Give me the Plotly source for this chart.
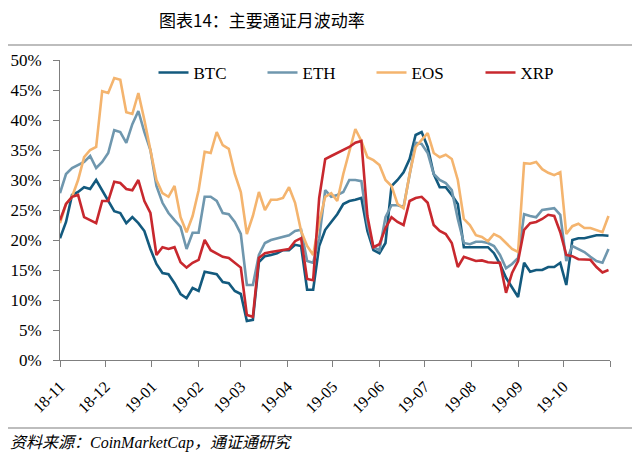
import pandas as pd
import plotly.graph_objects as go

# 4-day sampling, 2018-11-01 .. 2019-10-31
dates = pd.date_range("2018-11-01", periods=92, freq="4D")

btc = [20.3, 23.0, 27.5, 28.0, 28.8, 28.5, 30.0, 28.3, 26.5, 24.8,
       24.5, 22.8, 23.8, 22.8, 21.5, 18.5, 16.0, 14.5, 14.3, 12.8,
       11.0, 10.3, 12.0, 11.5, 14.7, 14.5, 14.3, 13.0, 12.8, 11.5,
       11.0, 6.5, 6.7, 16.3, 17.3, 17.5, 17.8, 18.3, 18.3, 19.2,
       19.0, 11.7, 11.7, 19.0, 21.7, 23.0, 24.3, 26.0, 26.5, 26.7,
       27.0, 21.5, 18.3, 17.8, 19.5, 29.0, 30.0, 31.3, 33.5, 37.5,
       38.0, 35.5, 31.0, 28.8, 28.8, 27.5, 26.0, 18.8, 18.8, 18.8,
       18.8, 18.8, 17.8, 16.0, 13.7, 12.0, 10.5, 16.2, 14.7, 15.0,
       15.0, 15.5, 15.5, 16.2, 12.5, 20.0, 20.3, 20.3, 20.5, 20.8,
       20.8, 20.7]

eth = [27.8, 31.0, 32.0, 32.5, 33.0, 34.0, 32.0, 33.0, 34.5, 38.3,
       38.0, 36.2, 39.3, 41.5, 38.0, 35.0, 29.0, 26.2, 24.5, 23.3,
       22.2, 18.5, 21.2, 21.2, 27.2, 27.2, 26.5, 24.5, 24.3, 23.0,
       21.0, 12.5, 12.5, 17.5, 19.5, 20.0, 20.3, 20.5, 20.8, 21.5,
       21.7, 16.5, 16.2, 20.3, 28.3, 27.2, 27.5, 28.0, 30.0, 30.0,
       29.8, 22.8, 18.8, 18.3, 23.8, 25.8, 25.8, 25.5, 31.0, 36.2,
       36.0, 34.5, 31.0, 30.0, 29.5, 28.3, 23.5, 19.5, 19.3, 19.7,
       19.7, 19.5, 19.0, 17.5, 15.3, 16.0, 17.0, 24.3, 24.0, 23.8,
       25.0, 25.2, 25.3, 24.2, 16.5, 19.0, 18.5, 18.0, 17.2, 16.5,
       16.2, 18.5]

eos = [22.8, 26.0, 27.2, 30.0, 33.8, 35.0, 35.5, 44.8, 44.5, 47.0,
       46.7, 41.3, 41.0, 44.5, 40.0, 35.0, 30.0, 27.8, 27.2, 29.0,
       23.8, 21.3, 24.0, 28.3, 34.7, 34.5, 38.0, 35.8, 35.2, 31.0,
       28.0, 21.0, 24.0, 28.0, 25.0, 26.7, 26.7, 27.0, 28.8, 26.2,
       21.5, 19.0, 17.5, 23.0, 27.2, 27.8, 26.5, 31.0, 35.0, 38.5,
       36.5, 33.8, 33.3, 32.5, 30.0, 29.0, 26.0, 25.3, 31.0, 35.5,
       36.7, 37.8, 34.5, 33.8, 34.2, 33.5, 30.0, 23.5, 22.5, 20.8,
       20.5, 19.8, 21.0, 20.5, 19.5, 18.5, 18.0, 32.8, 32.7, 33.0,
       31.8, 31.2, 30.8, 31.3, 21.0, 22.3, 22.7, 22.0, 22.0, 21.7,
       21.3, 24.0]

xrp = [23.3, 26.0, 27.2, 27.5, 23.8, 23.3, 22.8, 26.5, 26.5, 29.7,
       29.5, 28.5, 28.3, 30.0, 26.5, 24.5, 17.5, 18.8, 18.5, 18.8,
       16.3, 15.4, 16.2, 16.7, 20.0, 18.3, 17.8, 17.2, 17.0, 16.2,
       15.4, 7.5, 7.2, 17.0, 17.8, 18.0, 18.2, 18.3, 18.5, 19.8,
       20.3, 13.5, 13.3, 27.0, 33.5, 34.0, 34.5, 35.0, 35.5, 36.2,
       36.5, 24.0, 18.8, 19.3, 22.0, 23.8, 23.0, 22.5, 26.5, 27.0,
       27.2, 26.2, 22.5, 21.5, 21.0, 19.5, 15.5, 17.2, 16.8, 16.5,
       16.6, 16.3, 16.2, 16.2, 11.2, 14.5, 16.5, 21.7, 22.8, 23.0,
       23.5, 24.2, 24.0, 21.3, 17.5, 17.3, 16.8, 16.8, 16.7, 15.5,
       14.6, 15.0]

series_names = ["BTC", "ETH", "EOS", "XRP"]
series_values = [btc, eth, eos, xrp]
series_colors = ["#135a7e", "#6f97ae", "#f4b46e", "#c8282e"]

tick_dates = pd.date_range("2018-11-01", "2019-11-01", freq="MS")
tick_labels = [d.strftime("%y-%m") for d in tick_dates[:-1]] + [""]
y_ticks = [0, 5, 10, 15, 20, 25, 30, 35, 40, 45, 50]
y_labels = [f"{v}%" for v in y_ticks]

serif = "Liberation Serif"
cjk = "Noto Sans CJK SC"

fig = go.Figure()
for name, vals, col in zip(series_names, series_values, series_colors):
    fig.add_trace(go.Scatter(x=dates, y=vals, mode="lines", name=name,
                             line=dict(color=col, width=2.6)))

# the page body has an 8px margin, so the figure is drawn 8px smaller
fig.update_layout(
    width=632, height=453,
    margin=dict(l=52, r=30, t=52, b=101, autoexpand=False),
    paper_bgcolor="white", plot_bgcolor="white",
    showlegend=True,
    legend=dict(orientation="h", x=0.17, xanchor="left", y=1.017, yanchor="top",
                font=dict(family=serif, size=17, color="black"),
                bgcolor="rgba(0,0,0,0)", itemwidth=30, entrywidth=64),
    xaxis=dict(type="date", range=[tick_dates[0], tick_dates[-1]],
               tickvals=tick_dates, ticktext=tick_labels, tickangle=-45,
               showgrid=False, zeroline=False, showline=True, automargin=False,
               linecolor="#7f7f7f", linewidth=1, ticks="outside",
               ticklen=6, tickcolor="#7f7f7f", ticklabelstandoff=4,
               tickfont=dict(family=serif, size=16, color="black")),
    yaxis=dict(range=[0, 50], tickvals=y_ticks, ticktext=y_labels,
               showgrid=False, zeroline=False, showline=True, automargin=False,
               linecolor="#7f7f7f", linewidth=1, ticks="outside",
               ticklen=6, tickcolor="#7f7f7f", ticklabelstandoff=8,
               tickfont=dict(family=serif, size=17, color="black")),
    shapes=[
        dict(type="line", xref="paper", yref="paper", x0=-60/550, x1=580/550,
             y0=(360-45)/300, y1=(360-45)/300, line=dict(color="#bdbdbd", width=2)),
        dict(type="line", xref="paper", yref="paper", x0=-60/550, x1=580/550,
             y0=(360-428)/300, y1=(360-428)/300, line=dict(color="#bdbdbd", width=2)),
    ],
    annotations=[
        dict(text="图表14：主要通证月波动率", xref="paper", yref="paper",
             x=(262-60)/550, y=(360-19.5)/300, xanchor="center", yanchor="middle",
             borderpad=0, showarrow=False,
             font=dict(family=cjk, size=17, color="black")),
        dict(text="<i>资料来源：CoinMarketCap，通证通研究</i>", xref="paper", yref="paper",
             x=(8-60)/550, y=(360-443)/300, xanchor="left", yanchor="middle",
             showarrow=False, font=dict(family=serif + ", " + cjk, size=16, color="black")),
    ],
)

fig.write_html("out.html")
